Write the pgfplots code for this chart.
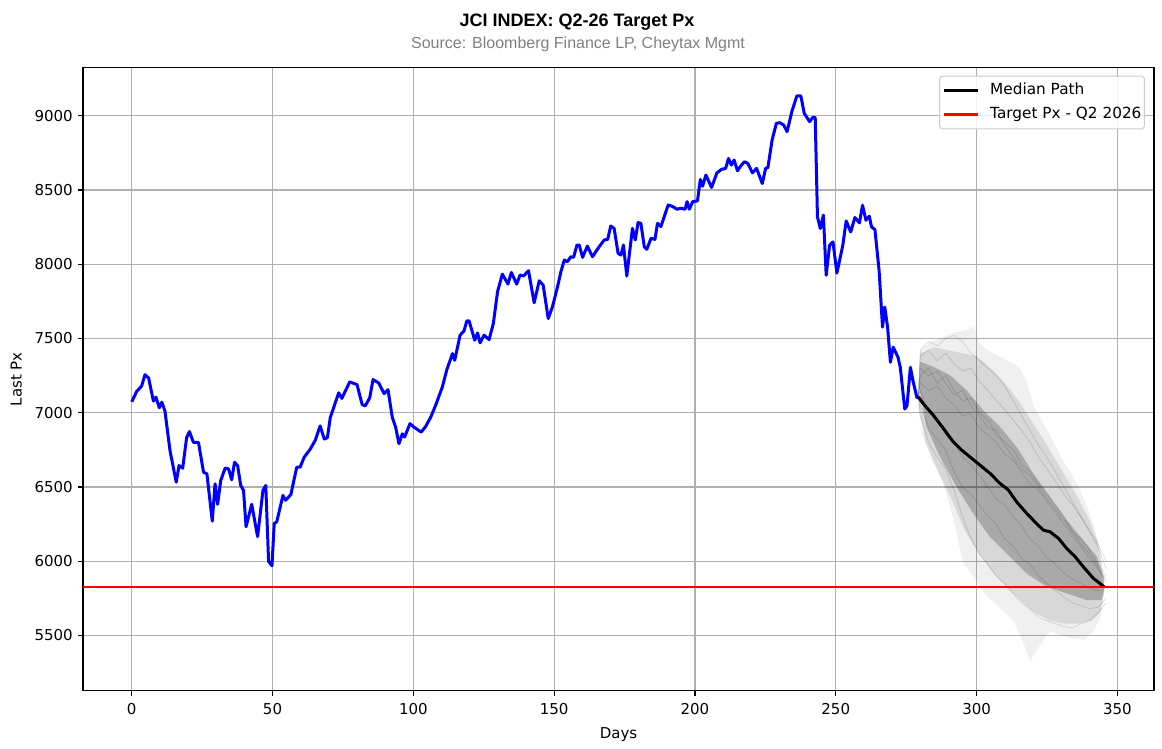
\documentclass[border=0pt]{standalone}
\usepackage{fontspec}
\setmainfont{Liberation Sans}
\newfontfamily\dejavu{DejaVu Sans}
\usepackage{pgfplots}
\pgfplotsset{compat=1.18}
\definecolor{gridgray}{HTML}{B0B0B0}
\definecolor{legendgray}{HTML}{CCCCCC}
\definecolor{subgray}{HTML}{808080}
\definecolor{mplblue}{HTML}{0000FF}
\definecolor{mplred}{HTML}{FF0000}
\begin{document}
\begin{tikzpicture}[x=1pt,y=1pt]
\path[use as bounding box] (0,0) rectangle (1162,749);
\node[anchor=base, font=\fontsize{18}{21}\selectfont\bfseries] at (577,722.3) {JCI INDEX: Q2-26 Target Px};
\node[anchor=base, text=subgray, font=\fontsize{16}{19}\selectfont] at (578,700.7) {Source: Bloomberg Finance LP, Cheytax Mgmt};
\begin{axis}[
  at={(83pt,58.3pt)}, anchor=south west,
  width=1071pt, height=623pt, scale only axis,
  xmin=-17.3, xmax=363, ymin=5128, ymax=9323,
  xtick={0,50,...,350}, ytick={5500,6000,...,9000},
  xtick pos=bottom, ytick pos=left,
  grid=major, grid style={color=gridgray, line width=1.2pt},
  axis line style={line width=1.2pt, black},
  tick align=outside, major tick length=5.25pt,
  tick style={black, line width=1.2pt},
  tick label style={font=\fontsize{15}{18}\selectfont\dejavu},
  xticklabel style={yshift=-4pt},
  yticklabel style={xshift=-1.5pt},
  /pgf/number format/assume math mode=true,
  /pgf/number format/1000 sep={},
  xlabel={Days}, ylabel={Last Px},
  label style={font=\fontsize{15}{18}\selectfont\dejavu},
  xlabel style={at={(axis description cs:0.5,-0.0764)}, anchor=base, inner sep=0pt},
  ylabel style={at={(axis description cs:-0.0574,0.5)}, anchor=base, inner sep=0pt},
  legend style={at={(axis description cs:0.9916,0.9872)}, anchor=north east,
    draw=legendgray, line width=1pt, rounded corners=3pt, fill=white, fill opacity=0.8, text opacity=1,
    font=\fontsize{15.3}{18}\selectfont\dejavu, inner xsep=3pt, inner ysep=7pt, row sep=9.4pt,
    nodes={inner sep=0pt, text height=11.6pt, text depth=3pt},
    /tikz/every odd column/.append style={column sep=10.5pt}},
  legend cell align=left,
  legend image code/.code={\draw[#1] (0pt,0pt) -- (34pt,0pt);},
]
% Monte Carlo cloud: outer, middle, inner density bands
\addplot[forget plot, draw=none, fill=black, fill opacity=0.06] coordinates {
(279.5,7100) (280,7420) (283,7470) (287,7500) (292,7540) (297,7560) (299,7580) (301,7470) (304,7420) (308,7380) (312,7340) (315.4,7300) (318,7200) (320,7060) (323,6950) (326,6850) (330,6700) (334,6580) (337,6470) (340,6330) (342,6220) (344,6060) (345.3,5860)
(345.3,5790) (344,5620) (341.5,5530) (338,5470) (334,5480) (330,5500) (326,5530) (322,5420) (319,5330) (316,5480) (313,5600) (308,5690) (303,5780) (299,5890) (295,6000) (292,6270) (288,6530) (284,6690) (281,6830) (279.3,7020)
} -- cycle;
\addplot[forget plot, draw=none, fill=black, fill opacity=0.10] coordinates {
(279.5,7100) (280,7400) (285,7440) (290,7420) (295,7400) (300,7380) (305,7300) (310,7200) (315,7080) (320,6930) (325,6780) (330,6620) (335,6460) (340,6280) (343,6130) (345.3,5880)
(345.3,5800) (344,5660) (341,5600) (336,5580) (331,5580) (326,5600) (321,5650) (316,5730) (311,5820) (306,5920) (301,6050) (296,6200) (291,6420) (286,6620) (282,6800) (279.5,7050)
} -- cycle;
\addplot[forget plot, draw=none, fill=black, fill opacity=0.22] coordinates {
(279.4,7110) (279.9,7343) (284.6,7309) (290.5,7253) (296.4,7152) (302.3,7017) (308.3,6905) (314.2,6770) (320.1,6591) (326.1,6434) (332,6277) (337.9,6142) (342.7,6030) (345,5895)
(345.3,5805) (344.4,5738) (339.1,5738) (332,5783) (324.9,5828) (317.8,5917) (310.7,6052) (304.7,6164) (298.8,6322) (292.9,6501) (287,6703) (282.2,6905) (279.6,7175)
} -- cycle;
% a few individual simulated paths
\pgfplotsset{simpath/.style={forget plot, color=black, opacity=0.14, line width=0.7pt}}
\addplot[simpath] coordinates {(279.3,7107) (280,7380) (283,7420) (286,7350) (289,7400) (292,7330) (295,7280) (298,7300) (301,7210) (304,7150) (307,7080) (310,7020) (313,6950) (316,6880) (319,6800) (322,6700) (325,6620) (328,6540) (331,6450) (334,6380) (337,6300) (340,6210) (343,6120) (346,6000)};
\addplot[simpath] coordinates {(279.3,7107) (280,7200) (283,7150) (286,7180) (289,7100) (292,7050) (295,6980) (298,6990) (301,6900) (304,6850) (307,6800) (310,6720) (313,6680) (316,6600) (319,6520) (322,6480) (325,6400) (328,6330) (331,6250) (334,6180) (337,6100) (340,6020) (343,5950) (346,5880)};
\addplot[simpath] coordinates {(279.3,7107) (280,7050) (283,6900) (286,6820) (289,6750) (292,6600) (295,6500) (298,6450) (301,6380) (304,6300) (307,6250) (310,6150) (313,6100) (316,6020) (319,5980) (322,5900) (325,5850) (328,5800) (331,5760) (334,5720) (337,5700) (340,5680) (343,5690) (346,5750)};
\addplot[simpath] coordinates {(279.3,7107) (280,7300) (283,7250) (286,7280) (289,7200) (292,7120) (295,7150) (298,7050) (301,6980) (304,6900) (307,6880) (310,6780) (313,6700) (316,6620) (319,6580) (322,6500) (325,6420) (328,6350) (331,6280) (334,6200) (337,6150) (340,6080) (343,5980) (346,5900)};
\addplot[simpath] coordinates {(279.3,7107) (280,7150) (283,7000) (286,6950) (289,6850) (292,6800) (295,6700) (298,6650) (301,6580) (304,6500) (307,6420) (310,6380) (313,6300) (316,6240) (319,6150) (322,6100) (325,6020) (328,5980) (331,5920) (334,5880) (337,5850) (340,5820) (343,5800) (346,5820)};
\addplot[simpath] coordinates {(279.3,7107) (280,7420) (283,7480) (286,7450) (289,7500) (292,7520) (295,7480) (298,7400) (301,7350) (304,7300) (307,7250) (310,7180) (313,7080) (316,6980) (319,6880) (322,6780) (325,6700) (328,6600) (331,6500) (334,6400) (337,6300) (340,6200) (343,6100) (346,5950)};
\addplot[simpath] coordinates {(279.3,7107) (280,6980) (283,6800) (286,6700) (289,6620) (292,6480) (295,6300) (298,6150) (301,6050) (304,5980) (307,5900) (310,5850) (313,5780) (316,5720) (319,5680) (322,5620) (325,5600) (328,5580) (331,5560) (334,5550) (337,5580) (340,5600) (343,5650) (346,5720)};
\addplot[simpath] coordinates {(279.3,7107) (280,7250) (283,7300) (286,7200) (289,7250) (292,7150) (295,7080) (298,7100) (301,7000) (304,6950) (307,6850) (310,6800) (313,6750) (316,6650) (319,6600) (322,6520) (325,6450) (328,6380) (331,6300) (334,6200) (337,6120) (340,6050) (343,5960) (346,5860)};
% historical price
\addplot[forget plot, color=mplblue, line width=3pt, line join=round] coordinates {
(0,7073) (1.8,7145) (3.5,7178) (4.7,7256) (6,7234) (7.7,7078) (8.6,7105) (9.8,7033) (10.7,7071) (11.8,7011)
(13.6,6744) (15.8,6532) (16.8,6644) (18.1,6626) (19.5,6833) (20.5,6873) (21.9,6800) (23.7,6800) (25.5,6599) (26.7,6588)
(28.6,6270) (29.6,6521) (30.5,6383) (31.6,6543) (33.2,6628) (34.4,6621) (35.5,6548) (36.5,6666) (37.6,6644) (38.7,6510)
(39.7,6477) (40.6,6232) (42.6,6383) (44.7,6165) (46.6,6477) (47.6,6510) (48.6,5998) (49.8,5969) (50.6,6254) (51.5,6265)
(53.7,6443) (54.6,6410) (56.5,6448) (58.6,6633) (59.8,6633) (61.2,6699) (63.4,6755) (65.2,6815) (66.9,6911) (68.4,6822)
(69.5,6833) (70.5,6967) (73.5,7134) (74.6,7096) (77.4,7207) (80,7189) (81.8,7056) (82.9,7045) (84.5,7100) (85.7,7223)
(87.7,7200) (89.6,7128) (91,7155) (92.5,6971) (93.7,6903) (94.9,6791) (96.1,6858) (96.9,6836) (98.8,6926) (100.2,6903)
(102.8,6869) (104.4,6908) (106.2,6971) (107.9,7049) (110.3,7173) (111.9,7290) (113.9,7398) (114.7,7353) (116.6,7522) (118,7551)
(119,7618) (119.8,7618) (121.8,7488) (122.8,7537) (123.7,7470) (125.1,7522) (126.9,7492) (128.4,7600) (129.9,7814) (131.6,7933)
(133.6,7866) (134.8,7944) (136.7,7866) (137.9,7927) (139.1,7920) (140.9,7956) (142.9,7740) (144.7,7888) (146.1,7859) (147.9,7634)
(149.4,7713) (151.2,7848) (152.4,7949) (153.6,8028) (154.7,8016) (155.9,8050) (156.9,8046) (158.1,8129) (158.9,8129) (160.1,8046)
(161.8,8122) (163.6,8050) (166,8118) (167.8,8163) (169,8167) (170.1,8257) (171.3,8241) (172.7,8073) (173.7,8061) (174.6,8129)
(175.8,7920) (177.8,8241) (178.8,8163) (179.8,8280) (180.8,8275) (182,8118) (182.9,8100) (184.4,8174) (185.8,8167) (186.7,8275)
(187.9,8253) (189.1,8320) (190.5,8399) (192.1,8388) (193.6,8370) (195,8376) (196.5,8370) (197.2,8421) (198,8370) (199.2,8421)
(200.9,8426) (201.9,8570) (202.7,8525) (203.9,8600) (205.9,8516) (207.8,8615) (209.4,8638) (210.9,8645) (211.9,8712) (212.9,8667)
(213.9,8701) (215.1,8629) (216.2,8660) (217.6,8690) (218.8,8678) (220.4,8615) (221.9,8645) (223.9,8543) (225.1,8645) (225.9,8651)
(227.4,8836) (228.9,8948) (230.1,8953) (231.5,8937) (232.7,8892) (234.5,9034) (236.2,9133) (237.6,9133) (238.8,9016) (240.7,8960)
(241.9,8989) (242.7,8989) (243.5,8318) (244.5,8240) (245.6,8330) (246.6,7925) (247.8,8127) (249,8150) (250.4,7940) (252.5,8127)
(253.7,8291) (255.3,8217) (256.8,8314) (258.4,8278) (259.5,8397) (260.7,8296) (261.9,8323) (262.7,8251) (263.9,8233) (265.4,7954)
(266.6,7576) (267.4,7711) (268.4,7576) (269.4,7340) (270.4,7441) (272.1,7373) (272.9,7306) (274.5,7025) (275.3,7047) (276.5,7306)
(277.4,7216) (278.8,7103) (279.8,7099)
};
% median path
\addplot[color=black, line width=3pt, line join=round] coordinates {
(279.3,7107) (281,7062) (284.6,6984) (288.2,6894) (291.7,6804) (294.7,6748) (297.6,6703) (301.2,6647) (304.8,6591) (308.3,6524)
(311.3,6479) (314.2,6400) (317.8,6322) (320.7,6265) (323.7,6209) (326.1,6198) (329.1,6153) (332,6086) (335,6030) (337.9,5962)
(341.5,5884) (345.3,5828)
};
\addlegendentry{Median Path}
% target
\addplot[color=mplred, line width=2.2pt] coordinates {(-17.3,5826) (363,5826)};
\addlegendentry{Target Px - Q2 2026}
\end{axis}
\end{tikzpicture}
\end{document}
